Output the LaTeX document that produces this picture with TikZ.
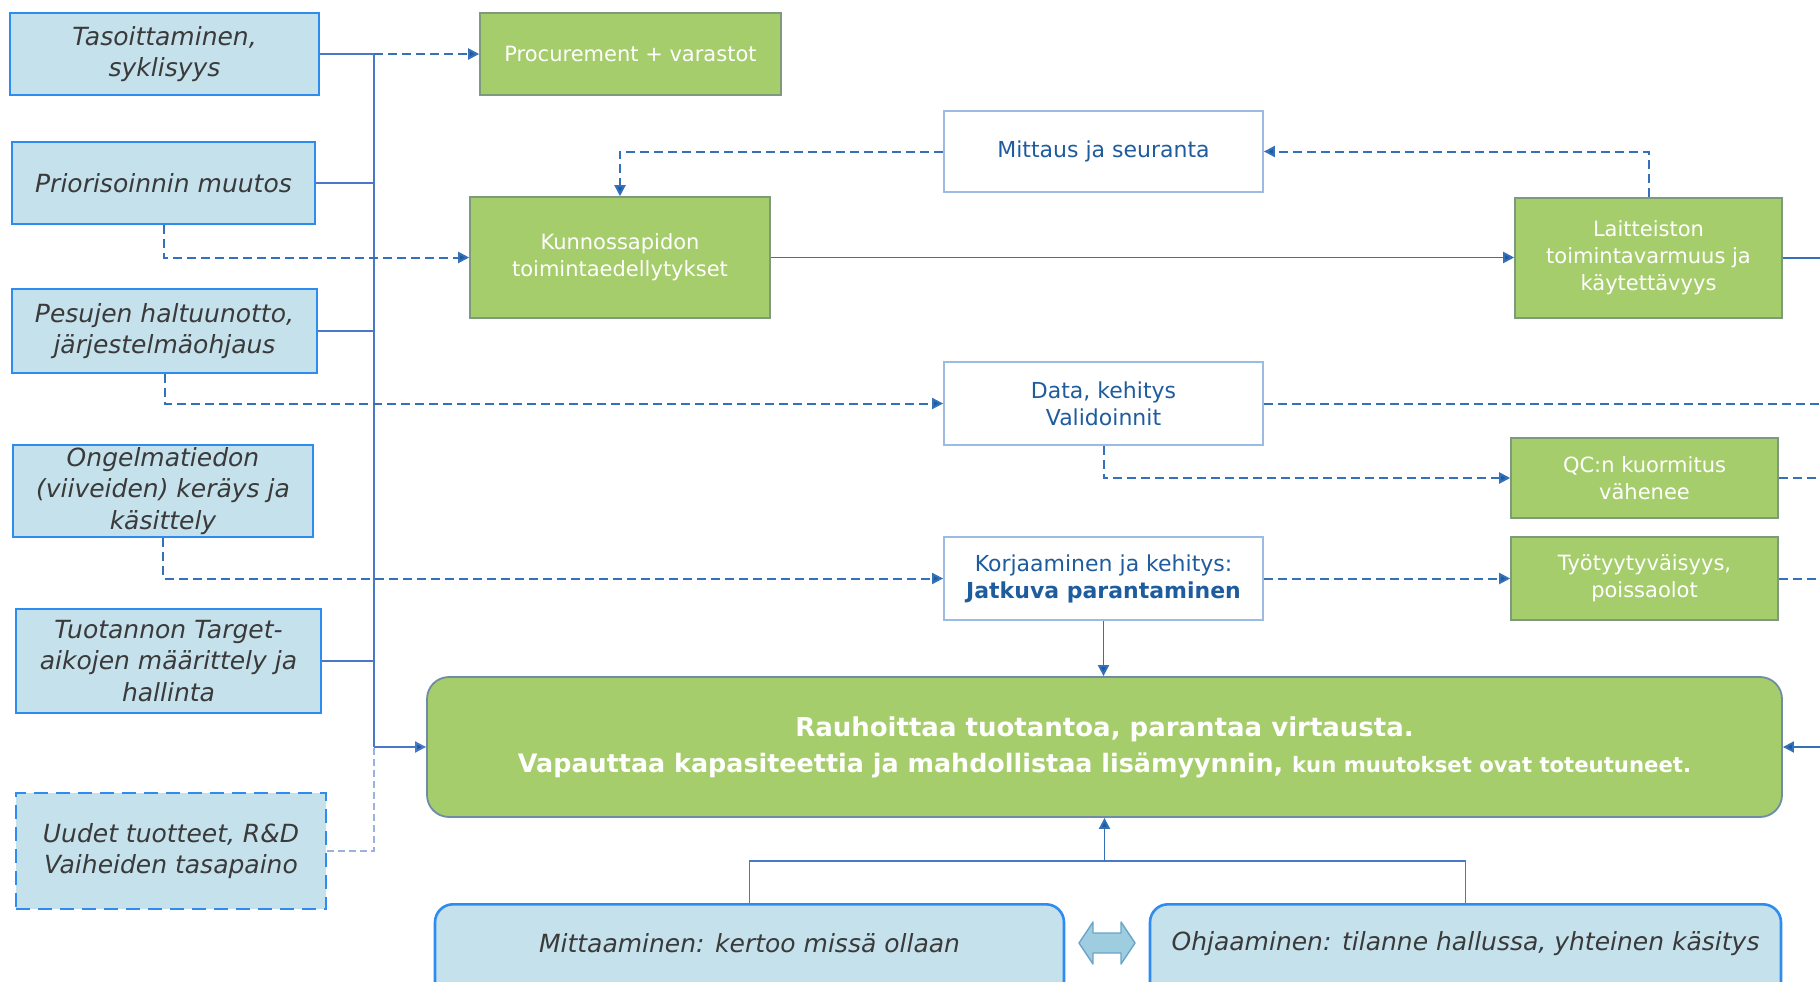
\documentclass[tikz,border=0pt]{standalone}
\usepackage{fontspec}
\setmainfont{DejaVu Sans}
\usetikzlibrary{arrows.meta,calc}

\definecolor{lbfill}{HTML}{C5E1EC}
\definecolor{lbline}{HTML}{2E8BF0}
\definecolor{grfill}{HTML}{A6CD6B}
\definecolor{grline}{HTML}{7E9A7C}
\definecolor{wline}{HTML}{9BBBE3}
\definecolor{navy}{HTML}{1F5C9E}
\definecolor{conn}{HTML}{3571B8}
\definecolor{tip}{HTML}{1E5AA0}
\definecolor{bus}{HTML}{4A78C4}
\definecolor{buslight}{HTML}{9AB2DF}
\definecolor{greytext}{HTML}{3A3A3A}
\definecolor{mainline}{HTML}{6E8CA6}
\definecolor{dafill}{HTML}{9FCDE0}
\definecolor{daline}{HTML}{6AA5C9}

\tikzset{
  leftbox/.style={draw=lbline, line width=2.6pt, fill=lbfill, inner sep=0pt,
    align=center, text=greytext, font=\fontsize{25}{31.5}\selectfont\itshape},
  greenbox/.style={draw=grline, line width=1.6pt, fill=grfill, inner sep=0pt,
    align=center, text=white, font=\fontsize{21}{27}\selectfont},
  whitebox/.style={draw=wline, line width=1.8pt, fill=white, inner sep=0pt,
    align=center, text=navy, font=\fontsize{22}{27}\selectfont},
  bottombox/.style={draw=lbline, line width=2.6pt, fill=lbfill, inner sep=0pt,
    rounded corners=18pt},
  bottomtext/.style={text=greytext, font=\fontsize{25}{30}\selectfont\itshape, inner sep=0pt},
  tipstyle/.style={-{Triangle[length=11pt,width=11pt,fill=tip]}},
  solidconn/.style={draw=conn, line width=1.9pt},
  dashconn/.style={draw=conn, line width=2pt, dash pattern=on 9pt off 5pt},
  busline/.style={draw=bus, line width=1.9pt},
}

\begin{document}
\begin{tikzpicture}[x=1pt,y=-1pt]
\useasboundingbox (0,0) rectangle (1820,982);

% left-hand column of drivers
\node[leftbox, minimum width=309pt, minimum height=82pt] (tas) at (164.5,54) {Tasoittaminen,\\syklisyys};
\node[leftbox, minimum width=303pt, minimum height=82pt] (pri) at (163.5,183) {Priorisoinnin muutos};
\node[leftbox, minimum width=305pt, minimum height=84pt] (pes) at (164.5,331) {Pesujen haltuunotto,\\järjestelmäohjaus};
\node[leftbox, minimum width=300pt, minimum height=92pt] (ong) at (163,491) {Ongelmatiedon\\(viiveiden) keräys ja\\käsittely};
\node[leftbox, minimum width=305pt, minimum height=104pt] (tuo) at (168.5,661) {Tuotannon Target-\\aikojen määrittely ja\\hallinta};
\node[leftbox, dash pattern=on 14pt off 8pt, minimum width=310pt, minimum height=116pt] (uud) at (171,851) {Uudet tuotteet, R\&D\\Vaiheiden tasapaino};

% green outcome boxes
\node[greenbox, minimum width=301pt, minimum height=82pt] (proc) at (630.5,54) {Procurement + varastot};
\node[greenbox, minimum width=300pt, minimum height=121pt] (kun) at (620,257.5) {Kunnossapidon\\toimintaedellytykset};
\node[greenbox, minimum width=267pt, minimum height=120pt] (lait) at (1648.5,258) {Laitteiston\\toimintavarmuus ja\\käytettävyys};
\node[greenbox, minimum width=267pt, minimum height=80pt] (qc) at (1644.5,478) {QC:n kuormitus\\vähenee};
\node[greenbox, minimum width=267pt, minimum height=83pt] (tyo) at (1644.5,578.5) {Työtyytyväisyys,\\poissaolot};

% white activity boxes
\node[whitebox, minimum width=319pt, minimum height=81pt] (mit) at (1103.5,151.5) {Mittaus ja seuranta};
\node[whitebox, minimum width=319pt, minimum height=83pt] (data) at (1103.5,403.5) {Data, kehitys\\Validoinnit};
\node[whitebox, minimum width=319pt, minimum height=83pt] (kor) at (1103.5,578.5) {Korjaaminen ja kehitys:\\\textbf{Jatkuva parantaminen}};

% main result
\node[draw=mainline, line width=1.8pt, fill=grfill, rounded corners=22pt, inner sep=0pt,
  minimum width=1355pt, minimum height=140pt, align=center, text=white] (main) at (1104.5,747)
  {{\fontsize{26}{38}\selectfont\bfseries Rauhoittaa tuotantoa, parantaa virtausta.}\\[10pt]
   {\fontsize{25.4}{30}\selectfont\bfseries Vapauttaa kapasiteettia ja mahdollistaa lisämyynnin, {\fontsize{21.2}{30}\selectfont kun muutokset ovat toteutuneet.}}};

% bottom pair
\node[bottombox, minimum width=629pt, minimum height=130pt, anchor=north] (mittbox) at (749.5,903) {};
\node[bottomtext] (mitttext) at (749.5,943) {Mittaaminen: kertoo missä ollaan};
\node[bottombox, minimum width=631pt, minimum height=130pt, anchor=north] (ohjbox) at (1465.5,903) {};
\node[bottomtext] (ohjtext) at (1465.5,944) {Ohjaaminen: tilanne hallussa, yhteinen käsitys};

% two-way arrow between the bottom boxes
\draw[fill=dafill, draw=daline, line width=1.4pt, line join=round]
  (1079,943) -- (1093,922) -- (1093,933) -- (1121,933) -- (1121,922) -- (1135,943)
  -- (1121,964) -- (1121,953) -- (1093,953) -- (1093,964) -- cycle;

% helper points
\coordinate (b1) at (374,54);
\coordinate (bend) at (374,747);
\coordinate (join) at (1104.5,861);
\coordinate (eL) at (1820,258);
\coordinate (eD) at (1820,403.5);
\coordinate (eQ) at (1820,478);
\coordinate (eT) at (1820,578.5);
\coordinate (eM) at (1820,747);

% collecting bus on the left
\draw[busline] (tas.east) -- (b1);
\draw[busline] (pri.east) -- (pri.east -| b1);
\draw[busline] (pes.east) -- (pes.east -| b1);
\draw[busline] (tuo.east) -- (tuo.east -| b1);
\draw[busline] (b1) -- (bend);
\draw[draw=buslight, line width=1.8pt, dash pattern=on 7pt off 4pt] (uud.east) -| (bend);
\draw[busline, tipstyle] (bend) -- (main.west);

% dashed links from the drivers
\draw[dashconn, tipstyle] (b1) -- (proc.west);
\draw[dashconn, tipstyle] (pri.south) |- (kun.west);
\draw[dashconn, tipstyle] (pes.south) |- (data.west);
\draw[dashconn, tipstyle] (ong.south) |- (kor.west);

% measurement feedback loop
\draw[dashconn, tipstyle] (mit.west) -| (kun.north);
\draw[dashconn, tipstyle] (lait.north) |- (mit.east);
\draw[solidconn, tipstyle] (kun.east) -- (kun.east -| lait.west);
\draw[solidconn] (lait.east) -- (eL);

% data and improvement paths
\draw[dashconn] (data.east) -- (eD);
\draw[dashconn, tipstyle] (data.south) |- (qc.west);
\draw[dashconn] (qc.east) -- (eQ);
\draw[dashconn, tipstyle] (kor.east) -- (tyo.west);
\draw[dashconn] (tyo.east) -- (eT);
\draw[solidconn, tipstyle] (kor.south) -- (kor.south |- main.north);
\draw[solidconn, tipstyle] (eM) -- (main.east);

% measuring and steering feed the result
\draw[draw=bus, line width=1.8pt] (mittbox.north) |- (join) -| (ohjbox.north);
\draw[solidconn, tipstyle] (join) -- (main.south);
\end{tikzpicture}
\end{document}
